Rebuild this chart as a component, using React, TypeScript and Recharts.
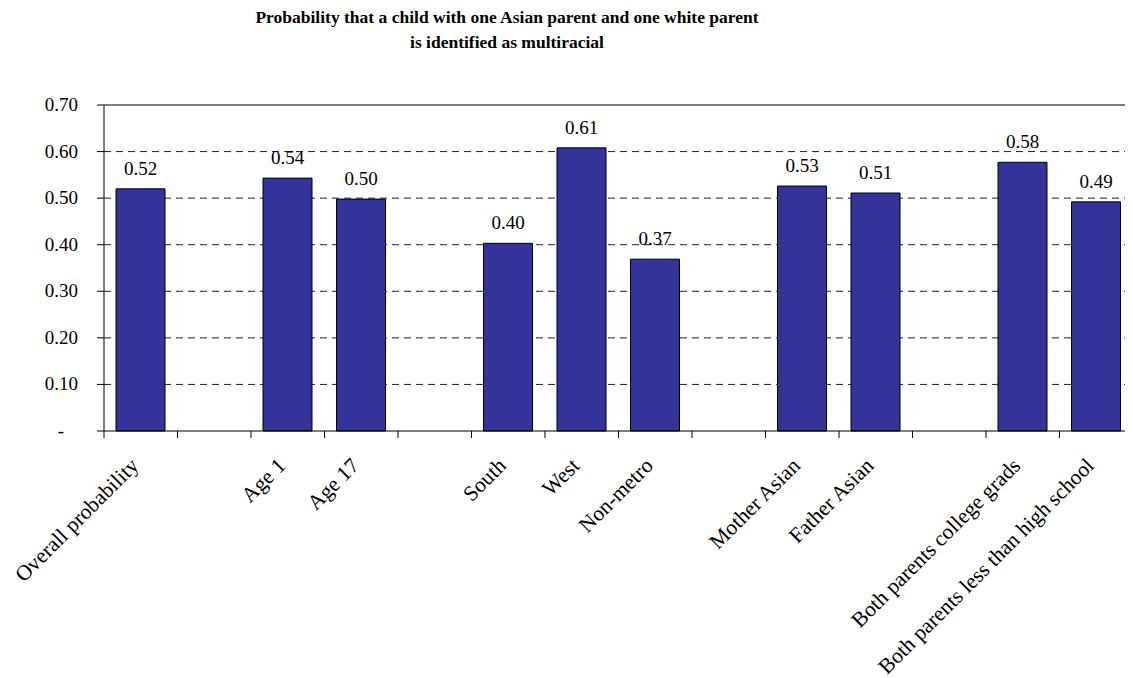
import React from "react";
import { BarChart, Bar, XAxis, YAxis, CartesianGrid, ReferenceLine, LabelList } from "recharts";

const categories = [
  "Overall probability",
  "",
  "Age 1",
  "Age 17",
  " ",
  "South",
  "West",
  "Non-metro",
  "  ",
  "Mother Asian",
  "Father Asian",
  "   ",
  "Both parents college grads",
  "Both parents less than high school",
];
const probabilities: (number | null)[] = [0.52, null, 0.543, 0.498, null, 0.403, 0.608, 0.369, null, 0.526, 0.511, null, 0.577, 0.492];
const yTicks = [0, 0.1, 0.2, 0.3, 0.4, 0.5, 0.6, 0.7];
const gridValues = [0.1, 0.2, 0.3, 0.4, 0.5, 0.6];
const titleLines = [
  "Probability that a child with one Asian parent and one white parent",
  "is identified as multiracial",
];

const data = categories.map((c, i) => ({ name: c, value: probabilities[i] }));

const FONT = "Liberation Serif, Times New Roman, serif";
const W = 1125;
const H = 670;
const M = { top: 97, right: 0, left: 0, bottom: 47 };
const Y_W = 96;
const X_H = 200;
const STEP = (W - Y_W - M.right) / categories.length;

const XTick = (props: any) => {
  const { x, y, payload, index } = props;
  const label = String(payload.value).trim();
  const ax = x - 1;
  const ay = y + 36;
  return (
    <g>
      <line x1={x - STEP / 2} y1={y} x2={x - STEP / 2} y2={y + 7} stroke="#000" />
      {index === categories.length - 1 && (
        <line x1={x + STEP / 2} y1={y} x2={x + STEP / 2} y2={y + 7} stroke="#000" />
      )}
      {label && (
        <text
          x={ax}
          y={ay}
          textAnchor="end"
          transform={`rotate(-45, ${ax}, ${ay})`}
          fontFamily={FONT}
          fontSize={21.5}
          fill="#000"
        >
          {label}
        </text>
      )}
    </g>
  );
};

const YTick = (props: any) => {
  const { x, y, payload } = props;
  const v = payload.value as number;
  const isZero = Math.abs(v) < 1e-9;
  return (
    <text
      x={isZero ? x - 31 : x - 17}
      y={y}
      dy={6}
      textAnchor="end"
      fontFamily={FONT}
      fontSize={19}
      fill="#000"
    >
      {isZero ? "-" : v.toFixed(2)}
    </text>
  );
};

export default function App() {
  return (
    <div style={{ width: W, height: H, background: "#fff" }}>
      <BarChart width={W} height={H} data={data} margin={M}>
        <text x={499} y={15} textAnchor="middle" fontFamily={FONT} fontWeight="bold" fontSize={17.5} fill="#000">
          {titleLines[0]}
        </text>
        <text x={499} y={40} textAnchor="middle" fontFamily={FONT} fontWeight="bold" fontSize={17.5} fill="#000">
          {titleLines[1]}
        </text>
        <CartesianGrid vertical={false} horizontalValues={gridValues} stroke="#222" strokeDasharray="7 5" />
        <ReferenceLine y={0.7} stroke="#000" />
        <XAxis
          dataKey="name"
          interval={0}
          height={X_H}
          tickLine={false}
          tickSize={0}
          tickMargin={0}
          tick={<XTick />}
          axisLine={{ stroke: "#000" }}
        />
        <YAxis
          width={Y_W}
          domain={[0, 0.7]}
          ticks={yTicks}
          tickSize={7}
          tickLine={{ stroke: "#000" }}
          axisLine={{ stroke: "#000" }}
          tick={<YTick />}
          interval={0}
        />
        <Bar dataKey="value" fill="#333399" stroke="#000" strokeWidth={1} barSize={49} isAnimationActive={false}>
          <LabelList
            dataKey="value"
            position="top"
            offset={14}
            formatter={(v: any) => (v == null ? "" : Number(v).toFixed(2))}
            style={{ fontFamily: FONT, fontSize: 19, fill: "#000" }}
          />
        </Bar>
      </BarChart>
    </div>
  );
}
